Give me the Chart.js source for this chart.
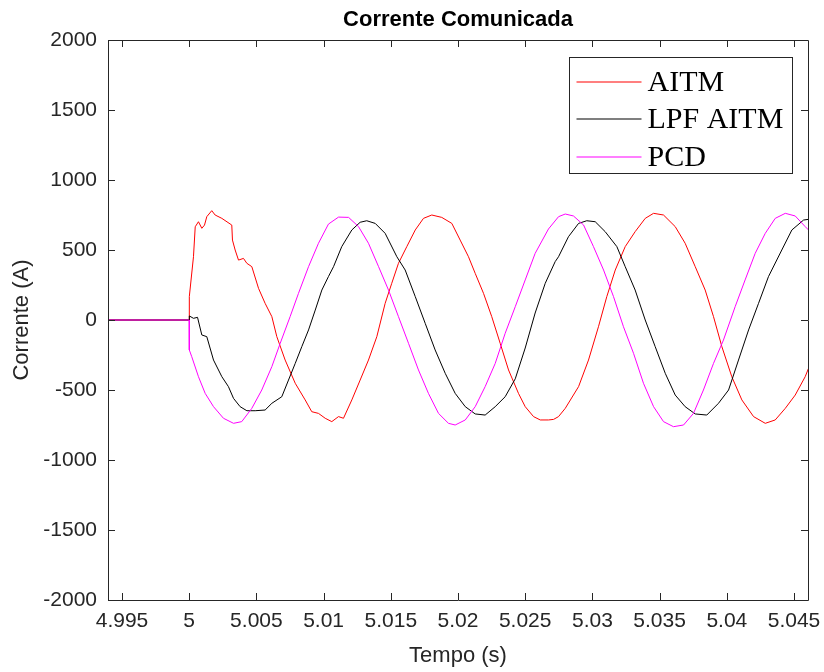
<!DOCTYPE html>
<html>
<head>
<meta charset="utf-8">
<title>Corrente Comunicada</title>
<script src="https://cdn.jsdelivr.net/npm/chart.js@4.4.1/dist/chart.umd.min.js"></script>
<style>
  html, body { margin: 0; padding: 0; background: #fff; }
</style>
</head>
<body>
<canvas id="chart" width="824" height="672"></canvas>
<script>
// values (time in s, current in A)
const aitmT = [4.9939, 5.0, 5.00001, 5.00032, 5.00045, 5.00069, 5.00094, 5.00114, 5.00131, 5.00168, 5.00193, 5.00243,
  5.00317, 5.00322, 5.00342, 5.00367, 5.00404, 5.00429, 5.00466, 5.00516, 5.00565, 5.00615, 5.00652, 5.00714,
  5.00789, 5.00863, 5.00912, 5.00962, 5.01012, 5.01061, 5.01111, 5.01148, 5.01210, 5.01272, 5.01334, 5.01396,
  5.01458, 5.01507, 5.01557, 5.01619, 5.01682, 5.01743, 5.01805, 5.01879, 5.01954, 5.02016, 5.02078, 5.02128,
  5.02190, 5.02251, 5.02314, 5.02376, 5.02450, 5.02500, 5.02562, 5.02612, 5.02673, 5.02711, 5.02748, 5.02798,
  5.02897, 5.02971, 5.03045, 5.03107, 5.03170, 5.03244, 5.03318, 5.03393, 5.03455, 5.03529, 5.03616, 5.03690,
  5.03765, 5.03839, 5.03901, 5.03963, 5.04037, 5.04112, 5.04199, 5.04286, 5.04360, 5.04435, 5.04509, 5.04583, 5.04608];
const aitmI = [0, 0, 167, 452, 666, 702, 655, 678, 738, 781, 750, 726,
  678, 571, 500, 428, 440, 405, 381, 226, 119, 24, -119, -286,
  -452, -571, -655, -667, -702, -726, -690, -702, -571, -429, -286, -119,
  119, 262, 405, 524, 643, 726, 750, 733, 690, 571, 452, 333,
  190, 24, -167, -357, -524, -619, -690, -714, -714, -710, -690, -631,
  -476, -286, -48, 167, 357, 524, 631, 726, 762, 750, 667, 548,
  381, 214, 24, -190, -405, -571, -690, -738, -714, -631, -536, -405, -345];

const lpfT = [4.9939, 5.0, 5.00001, 5.00032, 5.00062, 5.00094, 5.00131, 5.00181, 5.00243, 5.00292, 5.00330, 5.00379,
  5.00429, 5.00491, 5.00565, 5.00615, 5.00689, 5.00739, 5.00789, 5.00838, 5.00888, 5.00938, 5.00987, 5.01036,
  5.01074, 5.01135, 5.01210, 5.01272, 5.01321, 5.01384, 5.01458, 5.01545, 5.01607, 5.01682, 5.01756, 5.01830,
  5.01905, 5.01979, 5.02054, 5.02128, 5.02202, 5.02277, 5.02351, 5.02426, 5.02500, 5.02574, 5.02649, 5.02723,
  5.02748, 5.02822, 5.02897, 5.02958, 5.03021, 5.03095, 5.03182, 5.03244, 5.03318, 5.03393, 5.03467, 5.03542,
  5.03616, 5.03690, 5.03765, 5.03851, 5.03938, 5.04013, 5.04087, 5.04162, 5.04236, 5.04310, 5.04409, 5.04484,
  5.04571, 5.04608];
const lpfI = [0, 0, 29, 12, 19, -107, -119, -286, -405, -476, -560, -619,
  -648, -648, -643, -595, -548, -429, -310, -190, -71, 71, 214, 310,
  381, 524, 643, 698, 709, 690, 619, 452, 357, 167, -24, -214,
  -381, -524, -619, -671, -679, -619, -548, -420, -200, 50, 262, 417,
  452, 595, 690, 709, 702, 631, 524, 381, 214, 0, -190, -381,
  -536, -619, -671, -679, -595, -500, -286, -71, 119, 310, 500, 643,
  714, 719];

const pcdT = [4.9939, 5.0, 5.00001, 5.00019, 5.00069, 5.00119, 5.00181, 5.00255, 5.00330, 5.00391, 5.00466, 5.00540,
  5.00615, 5.00677, 5.00751, 5.00813, 5.00888, 5.00962, 5.01036, 5.01111, 5.01186, 5.01260, 5.01334, 5.01409,
  5.01483, 5.01557, 5.01632, 5.01706, 5.01780, 5.01855, 5.01929, 5.01979, 5.02054, 5.02128, 5.02202, 5.02277,
  5.02351, 5.02426, 5.02500, 5.02574, 5.02673, 5.02748, 5.02798, 5.02859, 5.02934, 5.03008, 5.03083, 5.03157,
  5.03231, 5.03306, 5.03380, 5.03455, 5.03529, 5.03603, 5.03678, 5.03752, 5.03826, 5.03901, 5.03975, 5.04062,
  5.04136, 5.04211, 5.04286, 5.04360, 5.04435, 5.04509, 5.04583, 5.04608];
const pcdI = [0, 0, -214, -262, -405, -524, -619, -702, -738, -726, -631, -500,
  -333, -167, 24, 190, 381, 548, 685, 735, 733, 667, 548, 381,
  214, 24, -167, -357, -524, -667, -738, -750, -714, -619, -476, -310,
  -95, 95, 286, 476, 650, 738, 757, 743, 679, 524, 357, 167,
  -48, -238, -452, -619, -726, -762, -750, -667, -500, -310, -143, 95,
  286, 476, 619, 726, 762, 743, 667, 643];

const seriesNames = ['AITM', 'LPF AITM', 'PCD'];
const seriesColors = ['#ff0000', '#000000', '#ff00ff'];

const xTicks = [4.995, 5, 5.005, 5.01, 5.015, 5.02, 5.025, 5.03, 5.035, 5.04, 5.045];
const xTickLabels = ['4.995', '5', '5.005', '5.01', '5.015', '5.02', '5.025', '5.03', '5.035', '5.04', '5.045'];
const yTicks = [-2000, -1500, -1000, -500, 0, 500, 1000, 1500, 2000];

function toPoints(ts, vs) {
    return ts.map((t, i) => ({ x: t, y: vs[i] }));
}

const axisColor = '#262626';

// MATLAB style box with inward ticks on all four sides
const boxPlugin = {
    id: 'boxPlugin',
    afterDatasetsDraw(chart) {
        const { ctx, chartArea: a, scales } = chart;
        const tl = 7;
        ctx.save();
        ctx.strokeStyle = axisColor;
        ctx.lineWidth = 1;
        ctx.beginPath();
        ctx.rect(Math.round(a.left) + 0.5, Math.round(a.top) + 0.5, Math.round(a.right - a.left), Math.round(a.bottom - a.top));
        scales.x.ticks.forEach(t => {
            const px = Math.round(scales.x.getPixelForValue(t.value)) + 0.5;
            ctx.moveTo(px, a.bottom); ctx.lineTo(px, a.bottom - tl);
            ctx.moveTo(px, a.top); ctx.lineTo(px, a.top + tl);
        });
        scales.y.ticks.forEach(t => {
            const py = Math.round(scales.y.getPixelForValue(t.value)) + 0.5;
            ctx.moveTo(a.left, py); ctx.lineTo(a.left + tl, py);
            ctx.moveTo(a.right, py); ctx.lineTo(a.right - tl, py);
        });
        ctx.stroke();
        ctx.restore();
    }
};

// legend box inside the axes, top right
const legendPlugin = {
    id: 'legendPlugin',
    afterDraw(chart) {
        const { ctx, chartArea: a } = chart;
        const w = 223, h = 116;
        const x0 = Math.round(a.right - 16 - w) + 0.5;
        const y0 = Math.round(a.top + 17) + 0.5;
        ctx.save();
        ctx.fillStyle = '#fff';
        ctx.fillRect(x0, y0, w, h);
        ctx.strokeStyle = axisColor;
        ctx.lineWidth = 1;
        ctx.strokeRect(x0, y0, w, h);
        ctx.font = '30px "Liberation Serif", "Times New Roman", serif';
        ctx.textBaseline = 'middle';
        ctx.textAlign = 'left';
        chart.data.datasets.forEach((ds, i) => {
            const cy = Math.round(y0 + 24 + i * 37.5);
            ctx.strokeStyle = seriesColors[i];
            ctx.lineWidth = 1.2;
            ctx.beginPath();
            ctx.moveTo(x0 + 7, cy);
            ctx.lineTo(x0 + 72, cy);
            ctx.stroke();
            ctx.fillStyle = '#000';
            ctx.fillText(ds.label, x0 + 78, cy + 1);
        });
        ctx.restore();
    }
};

const datasets = [
    { label: seriesNames[0], data: toPoints(aitmT, aitmI), borderColor: seriesColors[0], order: 2 },
    { label: seriesNames[1], data: toPoints(lpfT, lpfI), borderColor: seriesColors[1], order: 1 },
    { label: seriesNames[2], data: toPoints(pcdT, pcdI), borderColor: seriesColors[2], order: 0 }
].map(d => Object.assign(d, { borderWidth: 1, pointRadius: 0, tension: 0, fill: false }));

Chart.defaults.font.family = '"Liberation Sans", Arial, Helvetica, sans-serif';

new Chart(document.getElementById('chart'), {
    type: 'line',
    data: { datasets: datasets },
    options: {
        responsive: false,
        animation: false,
        layout: { padding: { left: 0, right: 16, top: 0, bottom: 0 } },
        plugins: {
            legend: { display: false },
            tooltip: { enabled: false },
            title: {
                display: true,
                fullSize: false,
                text: 'Corrente Comunicada',
                color: '#000',
                font: { size: 22, weight: 'bold', lineHeight: 1.2 },
                padding: { top: 7, bottom: 6.6 }
            }
        },
        scales: {
            x: {
                type: 'linear',
                min: 4.99396,
                max: 5.04604,
                grid: { display: false, drawTicks: false },
                border: { display: false },
                afterBuildTicks: s => { s.ticks = xTicks.map(v => ({ value: v })); },
                afterFit: s => { s.height = 72; s.paddingLeft = 0; s.paddingRight = 0; },
                ticks: {
                    color: axisColor,
                    font: { size: 21 },
                    padding: 9,
                    maxRotation: 0,
                    autoSkip: false,
                    callback: (v, i) => xTickLabels[i]
                },
                title: {
                    display: true,
                    text: 'Tempo (s)',
                    color: axisColor,
                    font: { size: 22 },
                    padding: { top: 3, bottom: 3 }
                }
            },
            y: {
                min: -2000,
                max: 2000,
                grid: { display: false, drawTicks: false },
                border: { display: false },
                afterBuildTicks: s => { s.ticks = yTicks.map(v => ({ value: v })); },
                afterFit: s => { s.width = 108; },
                ticks: {
                    color: axisColor,
                    font: { size: 21 },
                    padding: 11,
                    autoSkip: false,
                    callback: v => String(v)
                },
                title: {
                    display: true,
                    text: 'Corrente (A)',
                    color: axisColor,
                    font: { size: 22 },
                    padding: { top: 9, bottom: 9 }
                }
            }
        }
    },
    plugins: [boxPlugin, legendPlugin]
});
</script>
</body>
</html>
